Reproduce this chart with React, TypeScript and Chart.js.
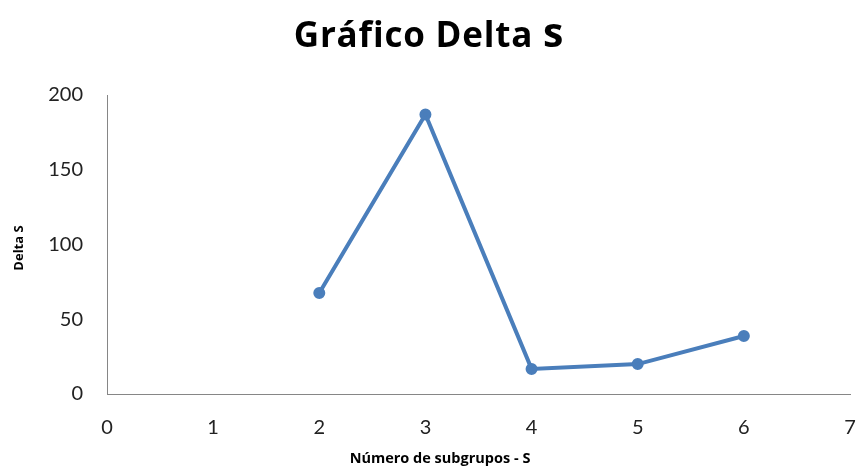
import React, { useEffect, useRef } from "react";
import { Chart, registerables } from "chart.js";

Chart.register(...registerables);

const xValues = [2, 3, 4, 5, 6];
const deltaS = [67.5, 187, 16.8, 20, 38.8];
const xTicks = [0, 1, 2, 3, 4, 5, 6, 7];
const yTicks = [0, 50, 100, 150, 200];
const titleMain = "Gráfico Delta ";
const titleTail = "s";
const xTitle = "Número de subgrupos - S";
const yTitle = "Delta S";

const FONT = "Lato, 'Liberation Sans', sans-serif";
const TFONT = "'Open Sans', 'Liberation Sans', sans-serif";

const textPlugin = {
  id: "customText",
  afterDraw(chart: any) {
    const ctx = chart.ctx;
    ctx.save();
    ctx.fillStyle = "#000";
    // title
    ctx.textBaseline = "alphabetic";
    try {
      (ctx as any).letterSpacing = "0.8px";
    } catch (e) {}
    ctx.font = `bold 35px ${TFONT}`;
    const w1 = ctx.measureText(titleMain).width;
    ctx.font = `bold 41px ${TFONT}`;
    const w2 = ctx.measureText(titleTail).width;
    const cx = 429;
    const x0 = cx - (w1 + w2) / 2;
    ctx.textAlign = "left";
    ctx.font = `bold 35px ${TFONT}`;
    ctx.fillText(titleMain, x0, 47);
    ctx.font = `bold 41px ${TFONT}`;
    ctx.fillText(titleTail, x0 + w1, 47);
    try {
      (ctx as any).letterSpacing = "0px";
    } catch (e) {}
    // x title
    ctx.font = `bold 14.5px ${TFONT}`;
    ctx.textAlign = "center";
    ctx.textBaseline = "middle";
    ctx.fillText(xTitle, 440, 459);
    // y title
    ctx.translate(19, 248);
    ctx.rotate(-Math.PI / 2);
    ctx.font = `bold 13px ${TFONT}`;
    ctx.fillText(yTitle, 0, 0);
    ctx.restore();
  },
};

export default function App() {
  const ref = useRef<HTMLCanvasElement>(null);
  useEffect(() => {
    document.body.style.margin = "0";
    const chart = new Chart(ref.current!, {
      type: "line",
      data: {
        datasets: [
          {
            data: xValues.map((x, i) => ({ x, y: deltaS[i] })),
            borderColor: "#4A7EBB",
            backgroundColor: "#4A7EBB",
            borderWidth: 4,
            pointRadius: 4,
            pointBackgroundColor: "#4A7EBB",
            pointBorderColor: "#4A7EBB",
            tension: 0,
          },
        ],
      },
      options: {
        animation: false,
        responsive: false,
        maintainAspectRatio: false,
        layout: { padding: { top: 95, right: 8, left: 0, bottom: 0 } },
        plugins: {
          legend: { display: false },
          title: { display: false },
          tooltip: { enabled: false },
        },
        scales: {
          x: {
            type: "linear",
            min: 0,
            max: 7,
            afterBuildTicks: (s: any) => {
              s.ticks = xTicks.map((v) => ({ value: v }));
            },
            afterFit: (s: any) => {
              s.height = 73;
              s.paddingLeft = 0;
              s.paddingRight = 0;
            },
            grid: { display: false, drawTicks: false },
            border: { display: true, color: "#868686", width: 1 },
            ticks: {
              color: "#222",
              font: { family: FONT, size: 20 },
              padding: 22,
            },
          },
          y: {
            min: 0,
            max: 200,
            afterBuildTicks: (s: any) => {
              s.ticks = yTicks.map((v) => ({ value: v }));
            },
            afterFit: (s: any) => {
              s.width = 107;
              s.paddingTop = 0;
              s.paddingBottom = 0;
            },
            grid: { display: false, drawTicks: false },
            border: { display: true, color: "#868686", width: 1 },
            ticks: {
              color: "#222",
              font: { family: FONT, size: 20 },
              padding: 24,
            },
          },
        },
      },
      plugins: [textPlugin],
    } as any);
    return () => chart.destroy();
  }, []);
  return (
    <div style={{ position: "absolute", left: 0, top: 0, width: 858, height: 467 }}>
      <canvas ref={ref} width={858} height={467} style={{ width: 858, height: 467 }} />
    </div>
  );
}
